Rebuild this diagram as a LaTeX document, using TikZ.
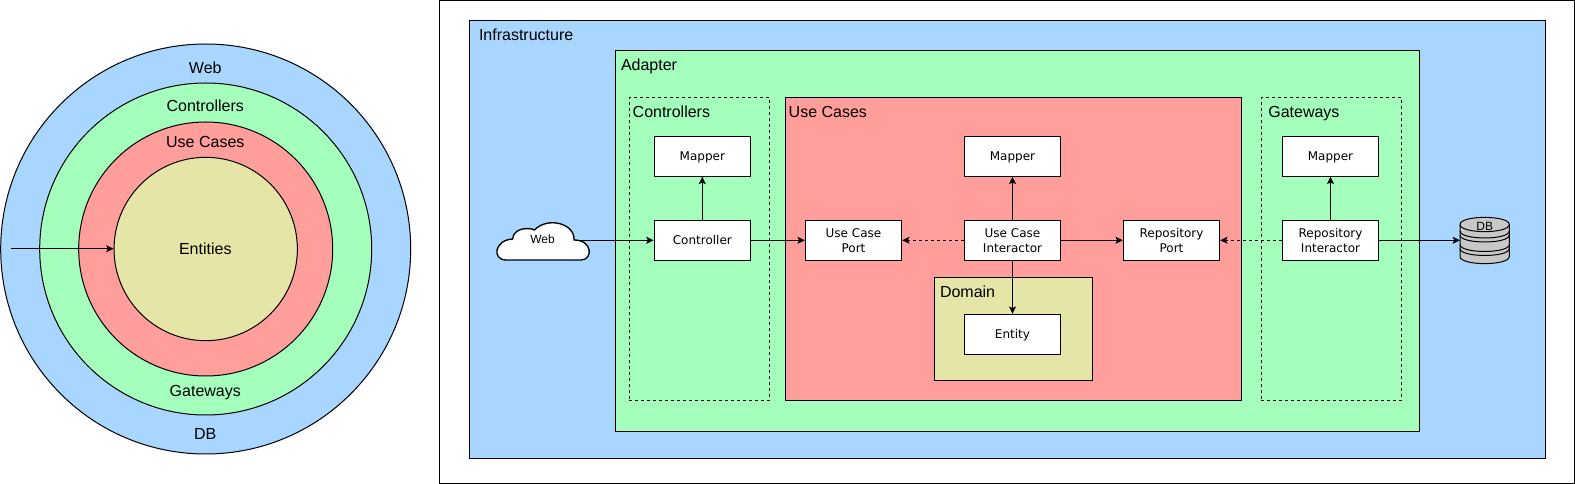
\documentclass[tikz,border=0pt]{standalone}
\usepackage{fontspec}
\setmainfont{Liberation Sans}
\newfontfamily\boxfont{DejaVu Sans}
\usetikzlibrary{arrows.meta}
\definecolor{infrablue}{HTML}{A8D6FF}
\definecolor{adaptergreen}{HTML}{A3FFBB}
\definecolor{caseered}{HTML}{FF9E9B}
\definecolor{domainolive}{HTML}{E5E5A8}
\definecolor{dbgray}{HTML}{C8C8C8}
\begin{document}
\begin{tikzpicture}[x=0.75pt, y=-0.75pt, line width=0.75pt]
        \tikzstyle{every node}=[font=\fontsize{12}{15}\selectfont, inner sep=0pt]
        \tikzstyle{ring}=[draw, circle]
        \tikzstyle{panel}=[draw, rectangle]
        \tikzstyle{group}=[panel, dash pattern=on 2.25pt off 2.25pt, minimum width=105.3pt, minimum height=227pt]
        \tikzstyle{title}=[anchor=base west]
        \tikzstyle{ringtitle}=[anchor=base]
        \tikzstyle{box}=[panel, fill=white, minimum width=72.3pt, minimum height=30pt, align=center, font=\boxfont\fontsize{9}{11.25}\selectfont]
        \tikzstyle{flatbox}=[box, text depth=0pt]
        \tikzstyle{link}=[draw, -{Stealth[length=5.5pt, width=5.25pt, inset=1.2pt]}]
        \tikzstyle{weak}=[link, dash pattern=on 2.25pt off 2.25pt]
        \useasboundingbox (0,0) rectangle (1575,484);

% The rings on the left.

        \node[ring, fill=infrablue, minimum size=307.5pt] (ringweb) at (205.7,249) {};
        \node[ring, fill=adaptergreen, minimum size=249pt] (ringadapter) at (205.7,249) {};
        \node[ring, fill=caseered, minimum size=190.5pt] (ringcases) at (205.7,249) {};
        \node[ring, fill=domainolive, minimum size=137.5pt] (ringentities) at (205.7,249) {};
        \node[ringtitle] (tweb) at (205.3,73.7) {Web};
        \node[ringtitle] (tcontrollers) at (205.3,112) {Controllers};
        \node[ringtitle] (tcases) at (205.3,147.7) {Use Cases};
        \node[ringtitle] (tentities) at (205.3,255) {Entities};
        \node[ringtitle] (tgateways) at (205.3,397) {Gateways};
        \node[ringtitle] (tdb) at (205.3,439.7) {DB};
        \coordinate (ringstart) at (11,248.7);
        \draw[link] (ringstart) -- (ringentities.west |- ringstart);

% The layers on the right.

        \node[panel, fill=white, minimum width=851.25pt, minimum height=362.25pt] (frame) at (1006.8,241.8) {};
        \node[panel, fill=infrablue, minimum width=807.3pt, minimum height=328.5pt] (infra) at (1007.5,239.3) {};
        \node[panel, fill=adaptergreen, minimum width=603.3pt, minimum height=285.45pt] (adapter) at (1017.5,241) {};
        \node[group] (controllers) at (699.5,249) {};
        \node[panel, fill=caseered, minimum width=342pt, minimum height=227pt] (cases) at (1013.7,249) {};
        \node[group] (gateways) at (1331.5,249) {};
        \node[panel, fill=domainolive, minimum width=118.8pt, minimum height=77.25pt] (domain) at (1013.5,328.8) {};

        \node[title] (tinfra) at (478.5,41) {Infrastructure};
        \node[title] (tadapter) at (620.5,71) {Adapter};
        \node[title] at (632.2,117.7) (tgroupc) {Controllers};
        \node[title] at (788.2,117.7) (tgroupu) {Use Cases};
        \node[title] at (1267.8,117.7) (tgroupg) {Gateways};
        \node[title] at (939.5,297.7) (tdomain) {Domain};

        \node[flatbox] (mapperc) at (702.3,156.3) {Mapper};
        \node[flatbox] (mapperu) at (1012.5,156.3) {Mapper};
        \node[flatbox] (mapperg) at (1330.5,156.3) {Mapper};
        \node[box] (controller) at (702.3,240.3) {Controller};
        \node[box] (port) at (853.5,240.3) {Use Case\\Port};
        \node[box] (interactor) at (1012.5,240.3) {Use Case\\Interactor};
        \node[box] (repoport) at (1171.5,240.3) {Repository\\Port};
        \node[box] (repointeractor) at (1330.5,240.3) {Repository\\Interactor};
        \node[flatbox] (entity) at (1012.5,334.3) {Entity};

% The cloud and the database are plain paths.

        \coordinate (webout) at (577,240.3);
        \coordinate (dbin) at (1460,240.3);
        \draw[link] (webout) -- (controller);
        \draw[fill=white, line width=1pt] (506,260) -- (581,260) .. controls (593,260) and (593,240) .. (574,240)
                .. controls (575,223) and (547,216.5) .. (534.5,230)
                .. controls (529,227) and (513,228) .. (512.7,239)
                .. controls (494,240) and (492,260) .. (506,260) -- cycle;
        \node[font=\fontsize{9}{11}\selectfont, anchor=base] (tcloud) at (542.5,244) {Web};

        \draw[fill=dbgray] (1460,224.5) .. controls (1460,215) and (1509.3,215) .. (1509.3,224.5)
                -- (1509.3,256.5) .. controls (1509.3,266) and (1460,266) .. (1460,256.5) -- cycle;
        \draw (1460,224.5) .. controls (1460,234) and (1509.3,234) .. (1509.3,224.5);
        \foreach \bandy in {231,235,244.5,248.5}
                \draw (1460,\bandy) .. controls (1460,\bandy+9.3) and (1509.3,\bandy+9.3) .. (1509.3,\bandy);
        \node[font=\fontsize{9}{11}\selectfont, anchor=base] (tstore) at (1484.7,230.3) {DB};

        \draw[link] (controller) -- (mapperc);
        \draw[link] (controller) -- (port);
        \draw[weak] (interactor) -- (port);
        \draw[link] (interactor) -- (mapperu);
        \draw[link] (interactor) -- (repoport);
        \draw[link] (interactor) -- (entity);
        \draw[weak] (repointeractor) -- (repoport);
        \draw[link] (repointeractor) -- (mapperg);
        \draw[link] (repointeractor) -- (dbin);

    \end{tikzpicture}
\end{document}
